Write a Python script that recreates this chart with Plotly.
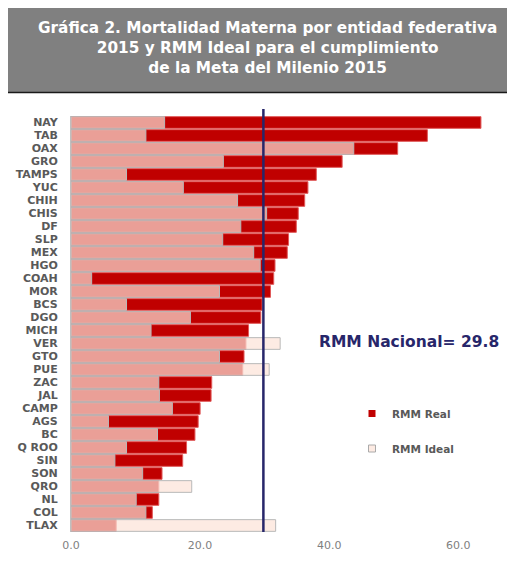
import plotly.graph_objects as go

estados = ["NAY", "TAB", "OAX", "GRO", "TAMPS", "YUC", "CHIH", "CHIS", "DF", "SLP",
           "MEX", "HGO", "COAH", "MOR", "BCS", "DGO", "MICH", "VER", "GTO", "PUE",
           "ZAC", "JAL", "CAMP", "AGS", "BC", "Q ROO", "SIN", "SON", "QRO", "NL",
           "COL", "TLAX"]
rmm_real = [63.5, 55.2, 50.6, 42.0, 38.0, 36.7, 36.2, 35.2, 34.9, 33.7,
            33.5, 31.6, 31.4, 30.9, 29.6, 29.4, 27.5, 27.1, 26.8, 26.6,
            21.8, 21.7, 20.0, 19.7, 19.2, 17.9, 17.3, 14.1, 13.6, 13.6,
            12.6, 7.0]
rmm_ideal = [14.5, 11.6, 43.8, 23.6, 8.6, 17.4, 25.8, 30.3, 26.3, 23.5,
             28.3, 29.3, 3.2, 23.0, 8.6, 18.5, 12.4, 32.4, 23.0, 30.7,
             13.6, 13.7, 15.7, 5.8, 13.4, 8.6, 6.8, 11.1, 18.7, 10.1,
             11.6, 31.7]
rmm_nacional = 29.8
x_ticks = [0, 20, 40, 60]

FONT = "DejaVu Sans"
GRAY = "#595959"
NAVY = "#27266A"

fig = go.Figure()
fig.add_trace(go.Bar(
    y=estados, x=rmm_real, orientation="h", name="RMM Real",
    marker=dict(color="#C00000", line=dict(color="#E05A5A", width=1)),
    showlegend=False, hoverinfo="x+y"))
fig.add_trace(go.Bar(
    y=estados, x=rmm_ideal, orientation="h", name="RMM Ideal",
    marker=dict(color="rgba(252,226,215,0.7)", line=dict(color="rgba(185,185,185,1)", width=1)),
    showlegend=False, hoverinfo="x+y"))

# legend entries
fig.add_trace(go.Scatter(x=[None], y=[None], mode="markers", name="RMM Real",
                         legendgroup="a",
                         marker=dict(symbol="square", size=7, color="#C00000")))
fig.add_trace(go.Scatter(x=[None], y=[None], mode="markers", name="RMM Ideal",
                         legendgroup="b",
                         marker=dict(symbol="square", size=7, color="#FDEBE3",
                                     line=dict(color="#AAAAAA", width=1))))

# the page adds an 8px body margin; work in reference pixel coords shifted by it
OFF = 8
W, H = 515 - OFF, 578 - OFF
L, R = 71 - OFF, 5
T = 116 - OFF
B = 46
pw = W - L - R
ph = H - T - B

def px_x(p):
    return (p - OFF - L) / pw

def px_y(p):
    return (H - B - (p - OFF)) / ph

shapes = [
    dict(type="rect", xref="paper", yref="paper", x0=px_x(5), x1=px_x(515),
         y0=px_y(93), y1=px_y(2), fillcolor="#808080", line=dict(width=0), layer="below"),
    dict(type="line", xref="paper", yref="paper", x0=px_x(5), x1=px_x(515),
         y0=px_y(2.5), y1=px_y(2.5), line=dict(color="#1a1a1a", width=1.5)),
    dict(type="line", xref="paper", yref="paper", x0=px_x(5), x1=px_x(515),
         y0=px_y(92.5), y1=px_y(92.5), line=dict(color="#1a1a1a", width=1.5)),
    dict(type="line", xref="x", yref="paper", x0=rmm_nacional, x1=rmm_nacional,
         y0=px_y(532), y1=px_y(109), line=dict(color=NAVY, width=2.5)),
]

annotations = [
    dict(xref="paper", yref="paper", x=px_x(267), y=px_y(48), xanchor="center", yanchor="middle",
         text="<b>Gráfica 2. Mortalidad Materna por entidad federativa<br>"
              "2015 y RMM Ideal para el cumplimiento<br>de la Meta del Milenio 2015</b>",
         showarrow=False, font=dict(family=FONT, size=15.3, color="white")),
    dict(xref="paper", yref="paper", x=px_x(409), y=px_y(342), xanchor="center", yanchor="middle",
         text="<b>RMM Nacional= %.1f</b>" % rmm_nacional, showarrow=False,
         font=dict(family=FONT, size=15.5, color=NAVY)),
]

fig.update_layout(
    width=W, height=H,
    margin=dict(l=L, r=R, t=T, b=B),
    paper_bgcolor="white", plot_bgcolor="white",
    barmode="overlay", bargap=0.1,
    shapes=shapes, annotations=annotations,
    font=dict(family=FONT, color=GRAY),
    legend=dict(x=px_x(352), y=px_y(399), xanchor="left", yanchor="top",
                tracegroupgap=16, bgcolor="rgba(0,0,0,0)",
                font=dict(family=FONT, size=10.5, color=GRAY, weight="bold")),
    xaxis=dict(range=[0, 68], tickvals=x_ticks, tickformat=".1f", showgrid=False,
               zeroline=False, showline=False, ticks="", ticklabelstandoff=5,
               tickfont=dict(family=FONT, size=11, color="#7F7F7F")),
    yaxis=dict(autorange="reversed", showgrid=False, zeroline=False,
               showline=True, linecolor="#BFBFBF", linewidth=1, ticks="",
               ticklabelstandoff=10,
               tickfont=dict(family=FONT, size=11, color=GRAY, weight="bold")),
)

fig.write_html("out.html")
